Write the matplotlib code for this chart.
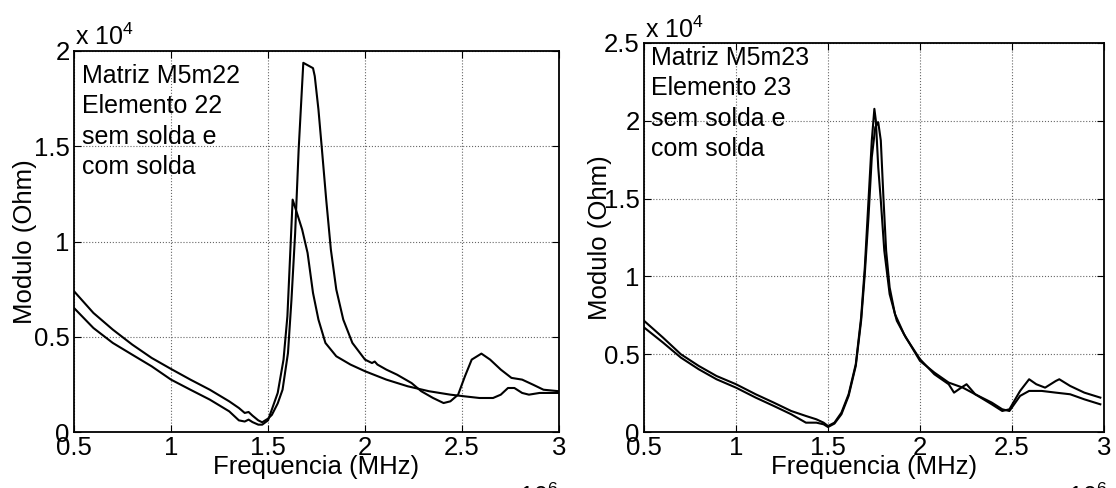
import matplotlib
matplotlib.use("Agg")
import matplotlib.pyplot as plt
from matplotlib.ticker import FuncFormatter

plt.rcParams['font.family'] = ['Liberation Sans', 'DejaVu Sans']
plt.rcParams['font.size'] = 18
plt.rcParams['mathtext.fontset'] = 'custom'
plt.rcParams['mathtext.rm'] = 'Liberation Sans'
plt.rcParams['mathtext.it'] = 'Liberation Sans'

# ---- left panel: Matriz M5m22, elemento 22 (freq in MHz, modulo in Ohm)
m22_sem_f = [0.5, 0.6, 0.7, 0.8, 0.9, 1.0, 1.1, 1.2, 1.3, 1.35, 1.38, 1.4, 1.42,
             1.45, 1.47, 1.5, 1.52, 1.55, 1.575, 1.603, 1.621, 1.64, 1.658, 1.682,
             1.732, 1.741, 1.76, 1.778, 1.8, 1.824, 1.852, 1.888, 1.935, 2.0, 2.036,
             2.05, 2.064, 2.11, 2.165, 2.24, 2.29, 2.35, 2.405, 2.44, 2.48, 2.515,
             2.55, 2.6, 2.645, 2.7, 2.755, 2.81, 2.865, 2.92, 3.0]
m22_sem_v = [7390, 6250, 5375, 4590, 3890, 3310, 2750, 2220, 1610, 1260, 1000, 1050, 860,
             610, 510, 700, 900, 1500, 2220, 4150, 6950, 10450, 14830, 19380,
             19100, 18680, 16930, 14830, 12200, 9580, 7480, 5900, 4675, 3800, 3620,
             3700, 3540, 3275, 3010, 2570, 2140, 1790, 1520, 1610, 1960, 2920,
             3800, 4115, 3800, 3275, 2840, 2750, 2490, 2220, 2140]

m22_com_f = [0.5, 0.6, 0.7, 0.8, 0.9, 1.0, 1.1, 1.2, 1.3, 1.35, 1.38, 1.4, 1.42,
             1.45, 1.47, 1.5, 1.55, 1.58, 1.6, 1.627, 1.649, 1.676, 1.704, 1.732,
             1.76, 1.796, 1.852, 1.925, 2.0, 2.11, 2.22, 2.33, 2.44, 2.515, 2.59,
             2.66, 2.7, 2.737, 2.77, 2.81, 2.845, 2.9, 3.0]
m22_com_v = [6510, 5460, 4675, 4060, 3450, 2750, 2220, 1700, 1085, 610, 550, 650, 520,
             385, 385, 610, 2050, 3800, 6075, 12200, 11500, 10630, 9400, 7300,
             5900, 4675, 3975, 3540, 3190, 2750, 2400, 2140, 1960, 1870, 1785,
             1785, 1960, 2310, 2310, 2050, 1960, 2050, 2050]

# ---- right panel: Matriz M5m23, elemento 23
m23_sem_f = [0.5, 0.603, 0.7, 0.797, 0.894, 1.0, 1.107, 1.205, 1.3, 1.38, 1.437, 1.476,
             1.5, 1.535, 1.573, 1.612, 1.651, 1.68, 1.7, 1.72, 1.738, 1.752, 1.76,
             1.773, 1.787, 1.806, 1.835, 1.874, 1.923, 2.0, 2.078, 2.156, 2.185,
             2.224, 2.253, 2.3, 2.39, 2.447, 2.486, 2.544, 2.593, 2.632, 2.68,
             2.738, 2.757, 2.816, 2.893, 2.98]
m23_sem_v = [7150, 6070, 5000, 4250, 3600, 3070, 2425, 1890, 1350, 1030, 815, 600,
             385, 600, 1245, 2425, 4360, 7360, 10580, 14870, 18730, 20770, 20020,
             17020, 14870, 11650, 8860, 7150, 6070, 4680, 3710, 3070, 2530,
             2850, 3070, 2425, 1780, 1350, 1460, 2640, 3390, 3070, 2850,
             3280, 3390, 2960, 2530, 2210]

m23_com_f = [0.5, 0.603, 0.7, 0.797, 0.894, 1.0, 1.107, 1.205, 1.3, 1.38, 1.437, 1.476,
             1.5, 1.535, 1.573, 1.612, 1.651, 1.68, 1.7, 1.72, 1.738, 1.757, 1.773,
             1.787, 1.802, 1.816, 1.835, 1.864, 1.913, 2.0, 2.078, 2.156, 2.233,
             2.3, 2.39, 2.447, 2.486, 2.544, 2.593, 2.661, 2.738, 2.816, 2.893, 2.98]
m23_com_v = [6720, 5750, 4785, 4035, 3390, 2850, 2210, 1675, 1140, 600, 600, 495,
             320, 540, 1140, 2320, 4250, 7150, 10150, 13800, 17660, 19590, 19910,
             18730, 14870, 11650, 9290, 7575, 6290, 4570, 3820, 3175, 2850,
             2425, 1890, 1460, 1350, 2320, 2640, 2640, 2530, 2425, 2100, 1780]

x_ticks = [0.5, 1, 1.5, 2, 2.5, 3]
left_yticks = [0, 5000, 10000, 15000, 20000]
right_yticks = [0, 5000, 10000, 15000, 20000, 25000]

left_note = 'Matriz M5m22\nElemento 22\nsem solda e\ncom solda'
right_note = 'Matriz M5m23\nElemento 23\nsem solda e\ncom solda'

W, H = 1116, 488
fig = plt.figure(figsize=(W / 100, H / 100), dpi=100)

ax1 = fig.add_axes([74 / W, (H - 432) / H, 485 / W, 381 / H])
ax2 = fig.add_axes([644 / W, (H - 432) / H, 460 / W, 389 / H])


def style_axis(ax, yticks, ymax):
    ax.set_xlim(0.5, 3)
    ax.set_ylim(0, ymax)
    ax.set_xticks(x_ticks)
    ax.set_yticks(yticks)
    ax.xaxis.set_major_formatter(FuncFormatter(lambda v, p: '%g' % v))
    ax.yaxis.set_major_formatter(FuncFormatter(lambda v, p: '%g' % (v / 1e4)))
    ax.tick_params(direction='in', length=5, width=0.8, top=True, right=True,
                   pad=3, labelsize=18.5)
    ax.grid(True, linestyle=':', color='0.4', linewidth=0.8)
    for s in ax.spines.values():
        s.set_linewidth(1.3)
        s.set_color('black')


ax1.plot(m22_sem_f, m22_sem_v, color='black', lw=1.5)
ax1.plot(m22_com_f, m22_com_v, color='black', lw=1.5)
style_axis(ax1, left_yticks, 20000)
ax1.set_xlabel('Frequencia (MHz)', fontsize=18.5)
ax1.set_ylabel('Modulo (Ohm)', fontsize=18.5)
ax1.xaxis.label.set_va('center')
ax1.yaxis.label.set_va('center')
ax1.xaxis.set_label_coords(0.5, (432 - 467) / 381)
ax1.yaxis.set_label_coords((25 - 74) / 485, 0.5)
ax1.text(8 / 485, (432 - 64) / 381, left_note, transform=ax1.transAxes,
         va='top', ha='left', fontsize=18, linespacing=1.33)

ax2.plot(m23_sem_f, m23_sem_v, color='black', lw=1.5)
ax2.plot(m23_com_f, m23_com_v, color='black', lw=1.5)
style_axis(ax2, right_yticks, 25000)
ax2.set_xlabel('Frequencia (MHz)', fontsize=18.5)
ax2.set_ylabel('Modulo (Ohm)', fontsize=18.5)
ax2.xaxis.label.set_va('center')
ax2.yaxis.label.set_va('center')
ax2.xaxis.set_label_coords(0.5, (432 - 467) / 389)
ax2.yaxis.set_label_coords((600 - 644) / 460, 0.5)
ax2.text(7 / 460, (432 - 46) / 389, right_note, transform=ax2.transAxes,
         va='top', ha='left', fontsize=18, linespacing=1.33)

# exponent labels, MATLAB style
fig.text(75 / W, (H - 45) / H, r'x 10$^{4}$', fontsize=18, va='baseline', ha='left')
fig.text(645 / W, (H - 38) / H, r'x 10$^{4}$', fontsize=18, va='baseline', ha='left')
fig.text(558 / W, (H - 505) / H, r'x 10$^{6}$', fontsize=18, va='baseline', ha='right')
fig.text(1107 / W, (H - 505) / H, r'x 10$^{6}$', fontsize=18, va='baseline', ha='right')

fig.savefig('out.png', dpi=100)
